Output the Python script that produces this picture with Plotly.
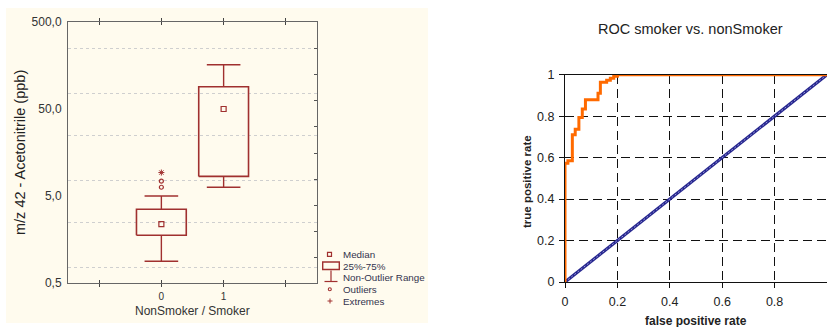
import math
import plotly.graph_objects as go

# ---------------- data ----------------
# Box plot: m/z 42 (acetonitrile) by group
groups = [0, 1]
group_labels = ["0", "1"]
q1 = [1.77, 8.4]
median = [2.37, 50.0]
q3 = [3.52, 90.0]
whisker_lo = [0.89, 6.3]
whisker_hi = [5.0, 161.0]
outlier_x = [0, 0]
outlier_y = [6.3, 7.4]
extreme_x = [0]
extreme_y = [9.3]

y_tick_vals = [0.5, 5, 50, 500]
y_tick_text = ["0,5", "5,0", "50,0", "500,0"]
y_grid_vals = [0.75, 2.5, 7.5, 25, 75, 250]
y_minor_vals = [250, 125, 62.5, 31.25, 15.6, 7.8, 3.9, 1.95, 0.98]

# ROC curve smoker vs. nonSmoker
fpr = [0, 0, 0.011, 0.028, 0.039, 0.053, 0.066, 0.078, 0.126, 0.135, 0.159, 0.173, 0.186, 0.2, 1.0]
tpr = [0, 0.573, 0.585, 0.71, 0.737, 0.794, 0.834, 0.879, 0.911, 0.964, 0.973, 0.983, 0.993, 1.0, 1.0]
chance = [0, 1]
roc_ticks = [0, 0.2, 0.4, 0.6, 0.8, 1]
roc_tick_text = ["0", "0.2", "0.4", "0.6", "0.8", "1"]

# ---------------- geometry helpers ----------------
W, H = 827, 327
FONT = "Liberation Sans, Arial, sans-serif"
BOX_RED = "#a0302f"
HALF_BOX = 0.4
HALF_CAP = 0.27


def fx(p):
    return p / W


def fy(p):
    return 1 - p / H


fig = go.Figure()

# ---------------- box plot ----------------
bx, by = [], []
for g, lo, hi in zip(groups, q1, q3):
    bx += [g - HALF_BOX, g + HALF_BOX, g + HALF_BOX, g - HALF_BOX, g - HALF_BOX, None]
    by += [lo, lo, hi, hi, lo, None]
fig.add_trace(go.Scatter(x=bx, y=by, mode="lines", line=dict(color=BOX_RED, width=1.6),
                         xaxis="x", yaxis="y", hoverinfo="skip", showlegend=False))

wx, wy = [], []
for g, a, b, lo, hi in zip(groups, q1, q3, whisker_lo, whisker_hi):
    wx += [g, g, None, g, g, None,
           g - HALF_CAP, g + HALF_CAP, None, g - HALF_CAP, g + HALF_CAP, None]
    wy += [b, hi, None, a, lo, None, hi, hi, None, lo, lo, None]
fig.add_trace(go.Scatter(x=wx, y=wy, mode="lines", line=dict(color=BOX_RED, width=1.4),
                         xaxis="x", yaxis="y", hoverinfo="skip", showlegend=False))

fig.add_trace(go.Scatter(x=groups, y=median, mode="markers",
                         marker=dict(symbol="square-open", size=5, color=BOX_RED, line=dict(width=1.2)),
                         xaxis="x", yaxis="y", showlegend=False))
fig.add_trace(go.Scatter(x=outlier_x, y=outlier_y, mode="markers",
                         marker=dict(symbol="circle-open", size=4, color=BOX_RED, line=dict(width=1.2)),
                         xaxis="x", yaxis="y", showlegend=False))
fig.add_trace(go.Scatter(x=extreme_x, y=extreme_y, mode="markers",
                         marker=dict(symbol="asterisk-open", size=5, color=BOX_RED, line=dict(width=1)),
                         xaxis="x", yaxis="y", showlegend=False))

# placeholders so the overlay axes (grid + minor ticks) are rendered
fig.add_trace(go.Scatter(x=[None], y=[None], xaxis="x", yaxis="y3", showlegend=False, hoverinfo="skip"))
fig.add_trace(go.Scatter(x=[None], y=[None], xaxis="x", yaxis="y4", showlegend=False, hoverinfo="skip"))

# ---------------- ROC ----------------
fig.add_trace(go.Scatter(x=chance, y=chance, mode="lines", line=dict(color="#26268f", width=3.2),
                         xaxis="x2", yaxis="y2", hoverinfo="skip", showlegend=False))
fig.add_trace(go.Scatter(x=chance, y=chance, mode="lines",
                         line=dict(color="#9a9ad8", width=1, dash="2px,2px"),
                         xaxis="x2", yaxis="y2", hoverinfo="skip", showlegend=False))
fig.add_trace(go.Scatter(x=fpr, y=tpr, mode="lines", line=dict(color="#ff6a00", width=3, shape="hv"),
                         xaxis="x2", yaxis="y2", showlegend=False))

log_range = [math.log10(0.5), math.log10(500)]

fig.update_layout(
    template="none",
    width=W, height=H,
    margin=dict(l=0, r=0, t=0, b=0, pad=0),
    paper_bgcolor="white",
    plot_bgcolor="white",
    font=dict(family=FONT, color="#333333"),
    xaxis=dict(domain=[fx(68), fx(317)], range=[-1.5, 2.5], anchor="y", automargin=False,
               tickvals=[-1, 0, 1, 2], ticktext=["", group_labels[0], group_labels[1], ""],
               ticks="inside", ticklen=3, tickcolor="#444", showgrid=False, zeroline=False,
               showline=True, linecolor="#666", linewidth=1, mirror="allticks",
               tickfont=dict(size=10, color="#333"), ticklabelstandoff=4),
    yaxis=dict(domain=[fy(283), fy(22)], type="log", range=log_range, anchor="x", automargin=False,
               tickvals=y_tick_vals, ticktext=y_tick_text, ticks="", showgrid=False,
               zeroline=False, showline=True, linecolor="#666", linewidth=1, mirror=True,
               tickfont=dict(size=12, color="#333"), ticklabelstandoff=3),
    yaxis3=dict(overlaying="y", type="log", range=log_range, anchor="x", automargin=False,
                tickvals=y_grid_vals, showticklabels=False, ticks="", showgrid=True,
                gridcolor="#cfcfcf", griddash="dot", gridwidth=1, showline=False, zeroline=False),
    yaxis4=dict(overlaying="y", side="right", type="log", range=log_range, anchor="x",
                automargin=False, tickvals=y_minor_vals, showticklabels=False, ticks="inside",
                ticklen=3, tickcolor="#555", showgrid=False, showline=False, zeroline=False),
    xaxis2=dict(domain=[fx(565), 1.0], range=[0, 1], anchor="y2", automargin=False,
                tickvals=roc_ticks, ticktext=roc_tick_text, ticks="outside", ticklen=5,
                tickcolor="#111", showgrid=True, gridcolor="#111", griddash="9px,5px",
                gridwidth=1, zeroline=False, showline=True, linecolor="#111", linewidth=1.2,
                mirror=True, tickfont=dict(size=12.5, color="#222"), ticklabelstandoff=3),
    yaxis2=dict(domain=[fy(282), fy(74.7)], range=[0, 1], anchor="x2", automargin=False,
                tickvals=roc_ticks, ticktext=roc_tick_text, ticks="outside", ticklen=5,
                tickcolor="#111", showgrid=True, gridcolor="#111", griddash="9px,5px",
                gridwidth=1, zeroline=False, showline=True, linecolor="#111", linewidth=1.2,
                mirror=True, tickfont=dict(size=12.5, color="#222"), ticklabelstandoff=2),
)

# beige panel behind the box plot
shapes = [dict(type="rect", xref="paper", yref="paper", x0=fx(6), x1=fx(428), y0=fy(323), y1=fy(8),
               fillcolor="#fffbee", line=dict(width=0), layer="below")]

# box-plot key
LEG_TXT = "#33334d"
shapes += [
    dict(type="rect", xref="paper", yref="paper", x0=fx(327.5), x1=fx(331.5), y0=fy(256.3), y1=fy(252.3),
         line=dict(color=BOX_RED, width=1.2)),
    dict(type="rect", xref="paper", yref="paper", x0=fx(322.7), x1=fx(339.3), y0=fy(269.5), y1=fy(262),
         line=dict(color=BOX_RED, width=1.4)),
    dict(type="line", xref="paper", yref="paper", x0=fx(331), x1=fx(331), y0=fy(281.5), y1=fy(270.5),
         line=dict(color=BOX_RED, width=1.2)),
    dict(type="line", xref="paper", yref="paper", x0=fx(324.5), x1=fx(337.5), y0=fy(281.5), y1=fy(281.5),
         line=dict(color=BOX_RED, width=1.2)),
    dict(type="circle", xref="paper", yref="paper", x0=fx(328.3), x1=fx(331.3), y0=fy(290.8), y1=fy(287.8),
         line=dict(color=BOX_RED, width=1.1)),
    dict(type="line", xref="paper", yref="paper", x0=fx(327.5), x1=fx(332.5), y0=fy(301), y1=fy(301),
         line=dict(color=BOX_RED, width=1)),
    dict(type="line", xref="paper", yref="paper", x0=fx(330), x1=fx(330), y0=fy(303.5), y1=fy(298.5),
         line=dict(color=BOX_RED, width=1)),
]
fig.update_layout(shapes=shapes)

annotations = []
for label, yy in [("Median", 254), ("25%-75%", 266), ("Non-Outlier Range", 277.7),
                  ("Outliers", 289.3), ("Extremes", 301)]:
    annotations.append(dict(text=label, xref="paper", yref="paper", x=fx(341), y=fy(yy),
                            xanchor="left", yanchor="middle", showarrow=False,
                            font=dict(size=9.8, color=LEG_TXT)))

annotations += [
    dict(text="m/z 42 - Acetonitrile (ppb)", xref="paper", yref="paper", x=fx(20), y=fy(153),
         textangle=-90, xanchor="center", yanchor="middle", showarrow=False,
         font=dict(size=14.5, color="#222")),
    dict(text="NonSmoker / Smoker", xref="paper", yref="paper", x=fx(192), y=fy(311),
         xanchor="center", yanchor="middle", showarrow=False, font=dict(size=12, color="#333")),
    dict(text="ROC smoker vs. nonSmoker", xref="paper", yref="paper", x=fx(690), y=fy(29),
         xanchor="center", yanchor="middle", showarrow=False, font=dict(size=14.5, color="#222")),
    dict(text="<b>true positive rate</b>", xref="paper", yref="paper", x=fx(527), y=fy(182),
         textangle=-90, xanchor="center", yanchor="middle", showarrow=False,
         font=dict(size=11.5, color="#222")),
    dict(text="<b>false positive rate</b>", xref="paper", yref="paper", x=fx(696), y=fy(321),
         xanchor="center", yanchor="middle", showarrow=False, font=dict(size=12, color="#222")),
]
fig.update_layout(annotations=annotations)

fig.write_html("out.html")
